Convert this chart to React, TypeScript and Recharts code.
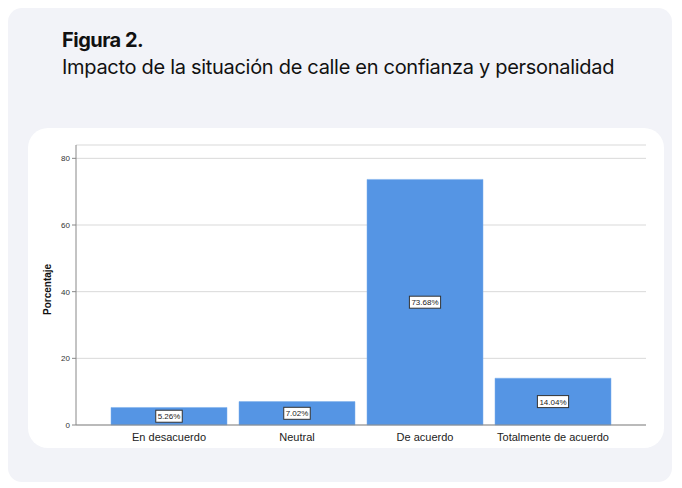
import React from 'react';
import { Bar, BarChart, CartesianGrid, LabelList, XAxis, YAxis } from 'recharts';

const categories = ['En desacuerdo', 'Neutral', 'De acuerdo', 'Totalmente de acuerdo'];
const percentages = [5.26, 7.02, 73.68, 14.04];
const yTicks = [0, 20, 40, 60, 80];

const data = categories.map((name, i) => ({ name, value: percentages[i] }));

function BoxLabel(props: any) {
  const { x, y, width, height, value } = props;
  const txt = `${Number(value).toFixed(2)}%`;
  const cx = x + width / 2;
  const cy = y + height / 2;
  const w = txt.length * 4.7 + 3;
  return (
    <g>
      <rect x={cx - w / 2} y={cy - 6} width={w} height={12} fill="#fff" stroke="#333" strokeWidth={1} />
      <text x={cx} y={cy + 3} textAnchor="middle" fontSize={8} fontFamily="Liberation Sans, Arial, sans-serif" fill="#222">{txt}</text>
    </g>
  );
}

export default function App() {
  return (
    <div style={{ position: 'absolute', left: 0, top: 0, width: 682, height: 488, background: '#fff', overflow: 'hidden' }}>
      <div style={{ position: 'absolute', left: 8, top: 8, width: 664, height: 474, background: '#F2F3F8', borderRadius: 14 }} />
      <div style={{ position: 'absolute', left: 62, top: 28, fontFamily: 'Inter, sans-serif', color: '#111', fontSize: 20, fontWeight: 700, letterSpacing: -0.5 }}>Figura 2.</div>
      <div style={{ position: 'absolute', left: 62, top: 55, fontFamily: 'Inter, sans-serif', color: '#111', fontSize: 20, fontWeight: 400, letterSpacing: -0.3 }}>Impacto de la situación de calle en confianza y personalidad</div>
      <div style={{ position: 'absolute', left: 28, top: 128, width: 636, height: 320, background: '#fff', borderRadius: 20 }} />
      <div style={{ position: 'absolute', left: 0, top: 0 }}>
        <BarChart width={682} height={488} data={data} margin={{ top: 145, right: 36, bottom: 33, left: 36 }} barSize={116}>
          <CartesianGrid horizontal vertical={false} stroke="#D9D9D9" />
          <XAxis dataKey="name" height={30} padding={{ left: 29, right: 29 }} tickLine={false} axisLine={{ stroke: '#888' }}
            tick={{ fontSize: 11, fill: '#222', fontFamily: 'Liberation Sans, Arial, sans-serif' }} tickMargin={2} interval={0} />
          <YAxis width={40} domain={[0, 84]} ticks={yTicks} tickSize={4} tickLine={{ stroke: '#888' }} axisLine={{ stroke: '#888' }}
            tick={{ fontSize: 8, fill: '#333', fontFamily: 'Liberation Sans, Arial, sans-serif' }}
            label={{ value: 'Porcentaje', angle: -90, position: 'insideLeft', offset: 11, dy: 30, style: { fontSize: 10, fontWeight: 700, fill: '#111', fontFamily: 'Liberation Sans, Arial, sans-serif' } }} />
          <Bar dataKey="value" fill="#5595E4" stroke="#7AAEEC" strokeWidth={0.5} isAnimationActive={false}>
            <LabelList dataKey="value" content={BoxLabel} />
          </Bar>
        </BarChart>
      </div>
    </div>
  );
}
